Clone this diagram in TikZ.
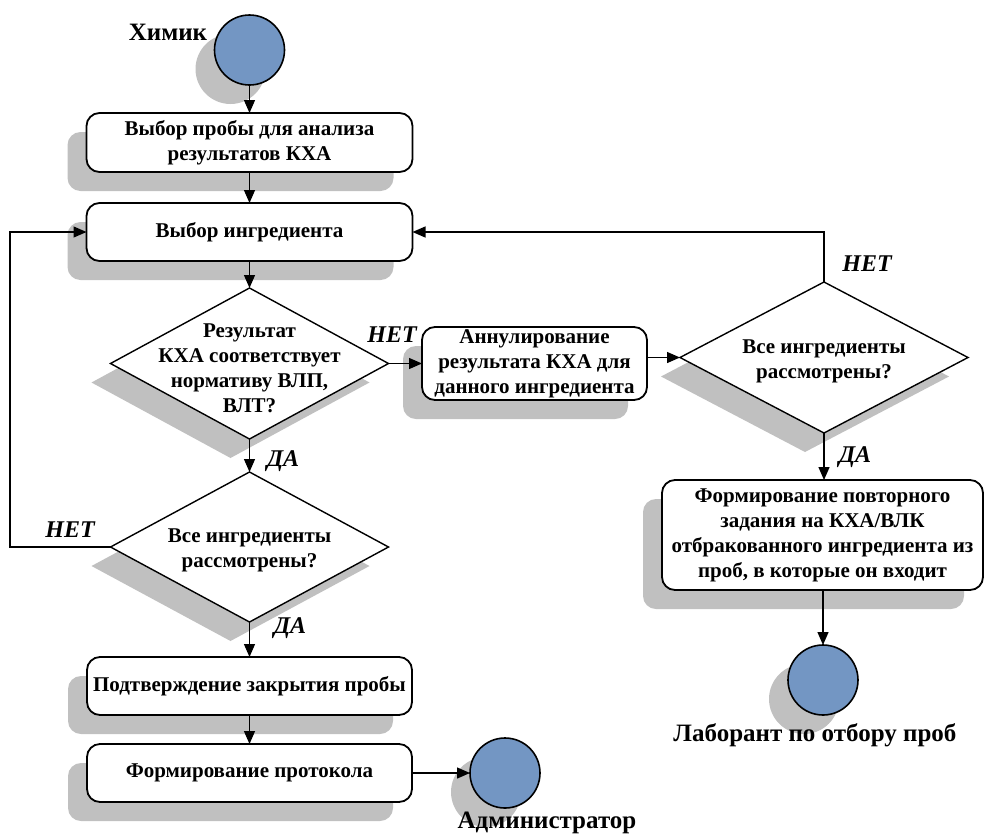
\documentclass[tikz,border=0pt]{standalone}
\usepackage{fontspec}
\setmainfont{Liberation Serif}
\usetikzlibrary{shapes.geometric,arrows.meta,shadows}
\definecolor{shadowgray}{RGB}{192,192,192}
\definecolor{circblue}{RGB}{115,150,195}
\begin{document}
\begin{tikzpicture}[x=1pt,y=-1pt,
  shad/.style={general shadow={fill=shadowgray, shadow xshift=-19pt, shadow yshift=-19pt}},
  box/.style={shad, draw, line width=1.8pt, rounded corners=13pt, fill=white, align=center, inner sep=0pt, outer sep=0pt, font=\fontsize{21}{25}\selectfont\bfseries},
  dia/.style={shad, diamond, draw, line width=1.4pt, fill=white, inner sep=0pt, outer sep=0pt},
  dtext/.style={align=center, font=\fontsize{21}{25}\selectfont\bfseries, inner sep=0pt},
  actor/.style={shad, circle, draw, line width=1.6pt, fill=circblue, inner sep=0pt, outer sep=0pt, minimum size=70pt},
  lbl/.style={font=\fontsize{25}{30}\selectfont\bfseries, inner sep=0pt},
  yn/.style={font=\fontsize{24}{28}\selectfont\bfseries\itshape, inner sep=0pt},
  arr/.style={draw, line width=1.3pt, -{Triangle[length=13pt,width=11pt]}},
]
\useasboundingbox (0,0) rectangle (985,836);

% left column
\node[actor] (c1) at (249.5,50) {};
\node[lbl] (c1l) at (168,32) {Химик};
\node[box, minimum width=326pt, minimum height=59pt] (b1) at (249.5,142.5) {Выбор пробы для анализа\\результатов КХА};
\node[box, minimum width=326pt, minimum height=58pt] (b2) at (249.5,232) {Выбор ингредиента};
\node[dia, minimum width=278pt, minimum height=151pt] (d1) at (249.5,363.5) {};
\node[dtext] (d1t) at (249.5,368) {Результат\\КХА соответствует\\нормативу ВЛП,\\ВЛТ?};
\node[dia, minimum width=278pt, minimum height=150pt] (d2) at (249.5,547) {};
\node[dtext] (d2t) at (249.5,550) {Все ингредиенты\\рассмотрены?};
\node[box, minimum width=325pt, minimum height=58pt] (b5) at (249.5,686) {Подтверждение закрытия пробы};
\node[box, minimum width=325pt, minimum height=58pt] (b6) at (249.5,773) {Формирование протокола};
\node[actor] (c2) at (505,773) {};
\node[lbl] (c2l) at (547,823) {Администратор};

% middle / right
\node[box, minimum width=225pt, minimum height=73pt] (b3) at (534.5,363.5) {Аннулирование\\результата КХА для\\данного ингредиента};
\node[dia, minimum width=288pt, minimum height=151pt] (d3) at (824,357.5) {};
\node[dtext] (d3t) at (824,361) {Все ингредиенты\\рассмотрены?};
\node[box, minimum width=321pt, minimum height=110pt] (b4) at (822.5,535) {Формирование повторного\\задания на КХА/ВЛК\\отбракованного ингредиента из\\проб, в которые он входит};
\node[actor] (c3) at (823,680) {};
\node[lbl] (c3l) at (815,735) {Лаборант по отбору проб};

% connectors
\draw[arr] (c1.south) -- (b1.north);
\draw[arr] (b1.south) -- (b2.north);
\draw[arr] (b2.south) -- (d1.north);
\draw[arr] (d1.south) -- (d2.north);
\draw[arr] (d2.south) -- (b5.north);
\draw[arr] (b5.south) -- (b6.north);
\draw[arr] (b6.east) -- (c2.west);
\draw[arr] (d1.east) -- (d1.east -| b3.west);
\draw[arr] (d3.west -| b3.east) -- (d3.west);
\draw[arr] (d3.north) |- (b2.east);
\draw[arr] (d3.south) -- (d3.south |- b4.north);
\draw[arr] (b4.south -| c3.north) -- (c3.north);
\coordinate (lp) at (10,547);
\draw[arr] (d2.west) -- (lp) |- (b2.west);

% labels
\node[yn] (n1) at (392,335) {НЕТ};
\node[yn] (y1) at (283,461) {ДА};
\node[yn] (n2) at (70,530) {НЕТ};
\node[yn] (y2) at (290,628) {ДА};
\node[yn] (n3) at (867,264) {НЕТ};
\node[yn] (y3) at (855,457) {ДА};
\end{tikzpicture}
\end{document}
